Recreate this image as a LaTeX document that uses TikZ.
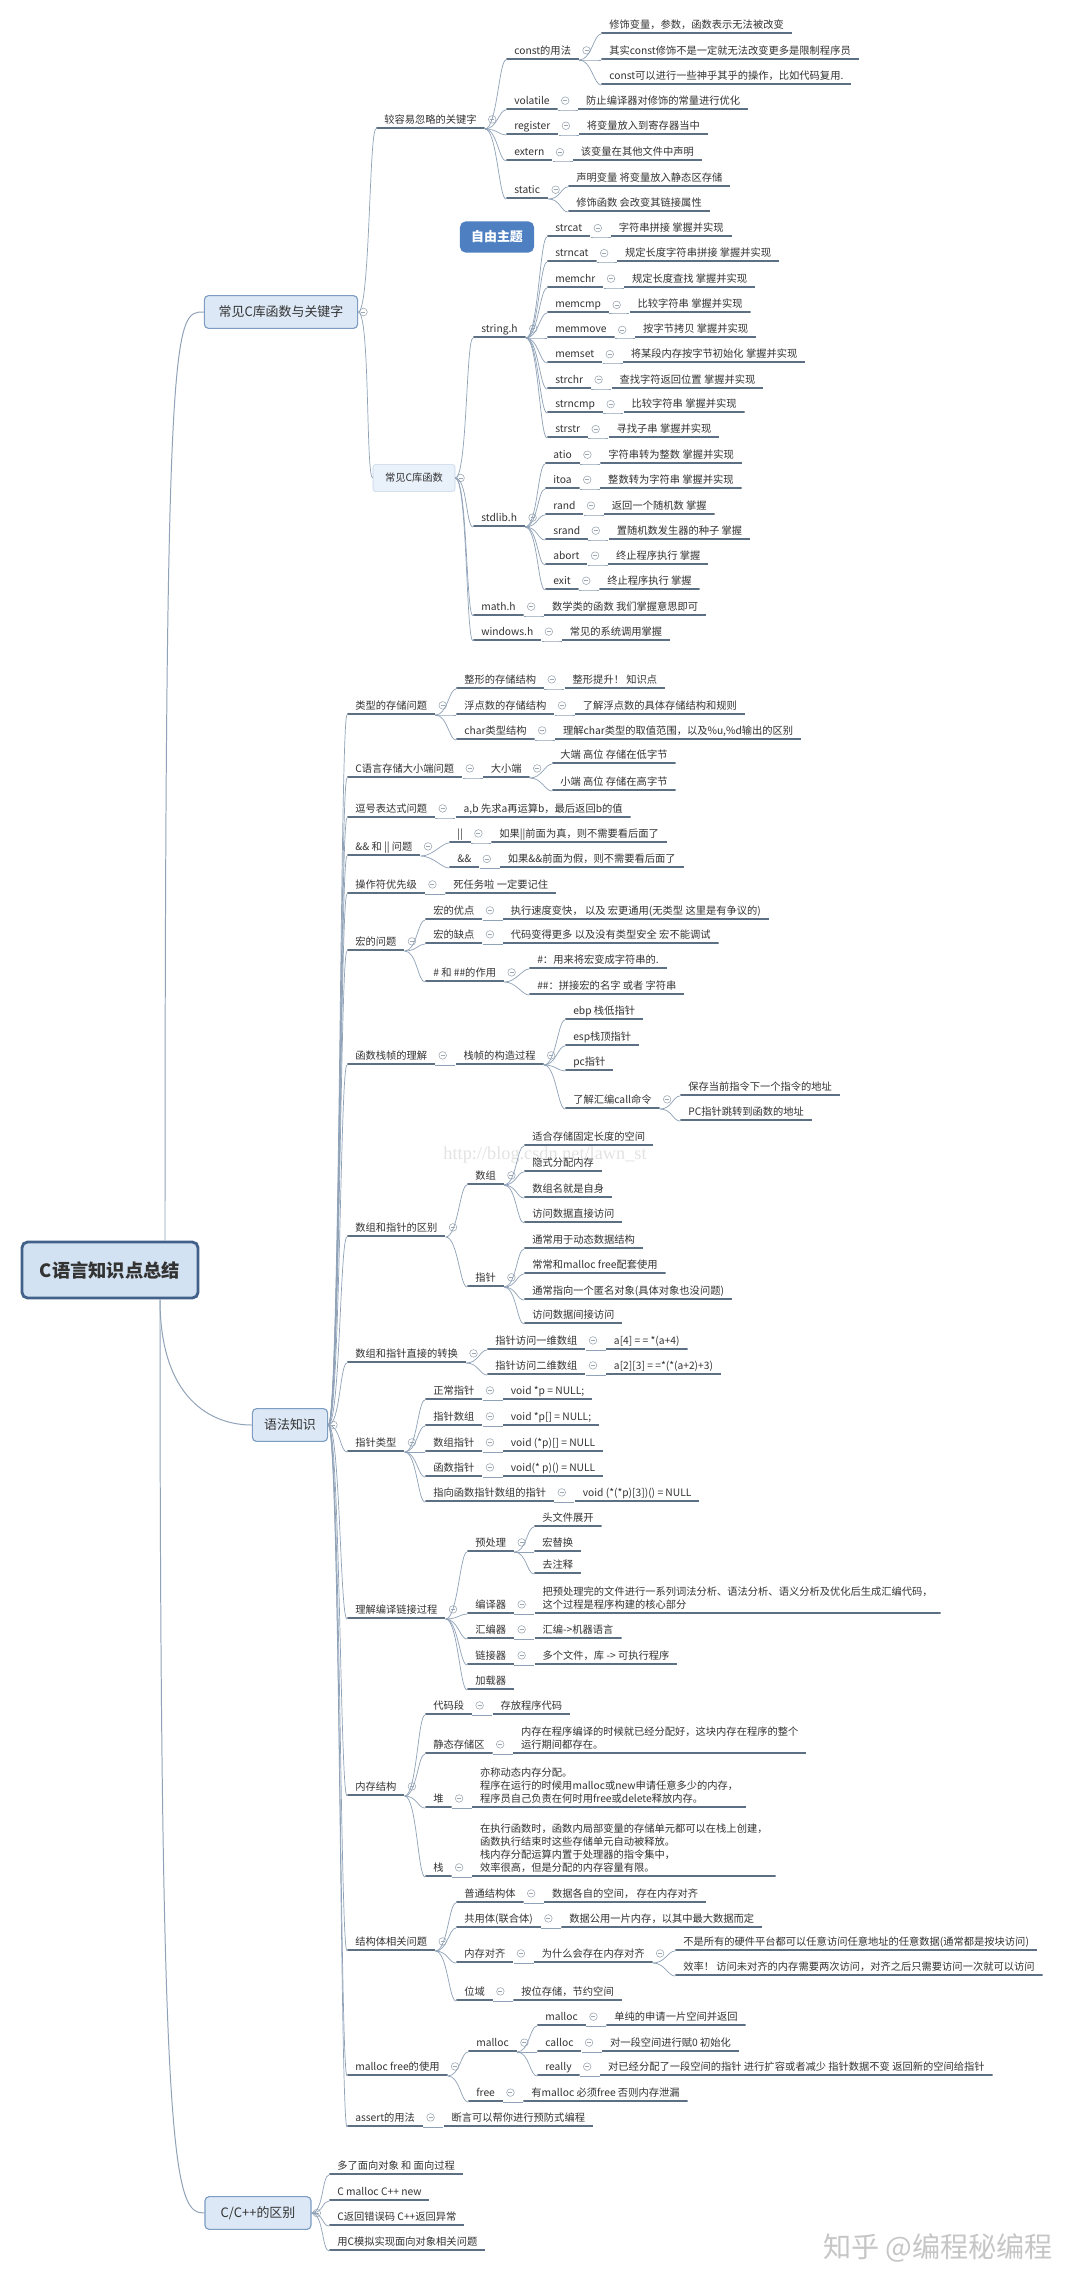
\documentclass[tikz,border=0pt]{standalone}
\usepackage{fontspec}
\setmainfont{Noto Sans CJK SC}
\newfontfamily\wmfont{Liberation Serif}
\usetikzlibrary{positioning, calc}

\definecolor{ulc}{HTML}{5D6F82}
\definecolor{connc}{HTML}{8FA2B8}
\definecolor{foldc}{HTML}{9BA6B2}
\definecolor{txt}{HTML}{333333}
\definecolor{boxf}{HTML}{DCE8F5}
\definecolor{boxd}{HTML}{7C9CC1}
\definecolor{rootf}{HTML}{D3E2F2}
\definecolor{rootd}{HTML}{41618A}
\definecolor{freef}{HTML}{4E80C1}
\definecolor{subf}{HTML}{E9F1FA}
\definecolor{subd}{HTML}{C5D5E8}

\newcommand\tpfont{\fontsize{7.3}{9.25}\selectfont}
\newcommand\boxfont{\fontsize{9.2}{11}\selectfont}
\newcommand\rootfont{\fontsize{13}{15}\selectfont\bfseries}

\begin{document}
\begin{tikzpicture}[
    x=0.025cm, y=-0.025cm,
    tp/.style={anchor=south west, inner xsep=0.2cm, inner ysep=0.125cm,
               text depth=0pt, align=left, font=\tpfont, text=txt,
               path picture={\draw[ulc, line width=1.5pt]
                 ([yshift=0.75pt]path picture bounding box.south west) --
                 ([yshift=0.75pt]path picture bounding box.south east);}},
    fold/.style={circle, draw=foldc, line width=0.4pt, inner sep=0pt,
                 minimum size=0.19cm,
                 path picture={\draw[foldc, line width=0.45pt]
                   ([xshift=0.045cm]path picture bounding box.west) --
                   ([xshift=-0.045cm]path picture bounding box.east);}},
    par/.style={tp, label={[fold, label distance=0.08cm]right:{}}},
    topbox/.style={draw=boxd, fill=boxf, line width=0.8pt, rounded corners=3pt,
                   font=\boxfont, text=txt, minimum height=0.82cm,
                   label={[fold, label distance=0.03cm]right:{}}},
    subbox/.style={draw=subd, fill=subf, rounded corners=2pt, font=\tpfont,
                   text=txt, minimum width=2.05cm, minimum height=0.68cm,
                   label={[fold, label distance=0.03cm]right:{}}},
    rootbox/.style={draw=rootd, fill=rootf, line width=2pt, rounded corners=4pt,
                    font=\rootfont, text=txt, minimum width=4.4cm,
                    minimum height=1.4cm},
    freebox/.style={fill=freef, rounded corners=4pt, text=white,
                    font=\boxfont\bfseries, minimum width=1.85cm,
                    minimum height=0.78cm},
    trunk/.style={draw=connc, line width=0.7pt},
    every edge/.style={draw=connc, line width=0.5pt,
                       to path={.. controls +(12,0) and +(-7,0) .. (\tikztotarget) \tikztonodes}}
  ]

  \fill[white] (0,0) rectangle (1080,2294);
  \useasboundingbox (0,0) rectangle (1080,2294);

  % watermarks
  \node[font=\wmfont\fontsize{13}{15}\selectfont, text=gray!22] (csdn) at (545,1155) {http://blog.csdn.net/lawn\_st};
  \node[font=\fontsize{20}{24}\selectfont, text=gray!45] (zhihu) at (938,2248) {知乎 @编程秘编程};

  % root and main branches
  \node[rootbox] (root) at (110,1270) {C语言知识点总结};
  \node[topbox, minimum width=3.83cm] (lib) at (281,312) {常见C库函数与关键字};
  \node[topbox, minimum width=1.88cm] (syn) at (290,1425) {语法知识};
  \node[topbox, minimum width=2.65cm] (cpp) at (258,2213) {C/C++的区别};

  \draw[trunk] (root.north) ++(55,0) .. controls +(0,-930) and +(-30,0) .. (lib.west);
  \draw[trunk] (root.south) ++(50,0) .. controls +(0,100) and +(-40,0) .. (syn.west);
  \draw[trunk] (root.south) ++(50,0) .. controls +(0,880) and +(-30,0) .. (cpp.west);

  % ---------- 常见C库函数与关键字 ----------
  \node[par] (kw) at (376,129) {较容易忽略的关键字};
  \node[par] (cst) at (506,60) {const的用法};
  \node[tp] (cstA) at (601,34) {修饰变量，参数，函数表示无法被改变};
  \node[tp] (cstB) at (601,60) {其实const修饰不是一定就无法改变更多是限制程序员};
  \node[tp] (cstC) at (601,85) {const可以进行一些神乎其乎的操作，比如代码复用.};
  \node[par] (vol) at (506,110) {volatile};
  \node[tp] (volA) at ([xshift=0.5cm]vol.south east) {防止编译器对修饰的常量进行优化};
  \node[par] (reg) at (506,135) {register};
  \node[tp] (regA) at ([xshift=0.5cm]reg.south east) {将变量放入到寄存器当中};
  \node[par] (ext) at (506,161) {extern};
  \node[tp] (extA) at ([xshift=0.5cm]ext.south east) {该变量在其他文件中声明};
  \node[par] (sta) at (506,199) {static};
  \node[tp] (staA) at (568,187) {声明变量 将变量放入静态区存储};
  \node[tp] (staB) at (568,212) {修饰函数 会改变其链接属性};

  \node[freebox] (free) at (497,237) {自由主题};

  \node[subbox] (clib) at (414,478) {常见C库函数};
  \node[par] (strh) at (473,338) {string.h};
  \node[par] (s1) at (547,237) {strcat};
  \node[tp] (s1d) at ([xshift=0.5cm]s1.south east) {字符串拼接 掌握并实现};
  \node[par] (s2) at (547,262) {strncat};
  \node[tp] (s2d) at ([xshift=0.5cm]s2.south east) {规定长度字符串拼接 掌握并实现};
  \node[par] (s3) at (547,288) {memchr};
  \node[tp] (s3d) at ([xshift=0.5cm]s3.south east) {规定长度查找 掌握并实现};
  \node[par] (s4) at (547,313) {memcmp};
  \node[tp] (s4d) at ([xshift=0.5cm]s4.south east) {比较字符串 掌握并实现};
  \node[par] (s5) at (547,338) {memmove};
  \node[tp] (s5d) at ([xshift=0.5cm]s5.south east) {按字节拷贝 掌握并实现};
  \node[par] (s6) at (547,363) {memset};
  \node[tp] (s6d) at ([xshift=0.5cm]s6.south east) {将某段内存按字节初始化 掌握并实现};
  \node[par] (s7) at (547,389) {strchr};
  \node[tp] (s7d) at ([xshift=0.5cm]s7.south east) {查找字符返回位置 掌握并实现};
  \node[par] (s8) at (547,413) {strncmp};
  \node[tp] (s8d) at ([xshift=0.5cm]s8.south east) {比较字符串 掌握并实现};
  \node[par] (s9) at (547,438) {strstr};
  \node[tp] (s9d) at ([xshift=0.5cm]s9.south east) {寻找子串 掌握并实现};

  \node[par] (stdh) at (473,527) {stdlib.h};
  \node[par] (d1) at (545,464) {atio};
  \node[tp] (d1d) at ([xshift=0.5cm]d1.south east) {字符串转为整数 掌握并实现};
  \node[par] (d2) at (545,489) {itoa};
  \node[tp] (d2d) at ([xshift=0.5cm]d2.south east) {整数转为字符串 掌握并实现};
  \node[par] (d3) at (545,515) {rand};
  \node[tp] (d3d) at ([xshift=0.5cm]d3.south east) {返回一个随机数 掌握};
  \node[par] (d4) at (545,540) {srand};
  \node[tp] (d4d) at ([xshift=0.5cm]d4.south east) {置随机数发生器的种子 掌握};
  \node[par] (d5) at (545,565) {abort};
  \node[tp] (d5d) at ([xshift=0.5cm]d5.south east) {终止程序执行 掌握};
  \node[par] (d6) at (545,590) {exit};
  \node[tp] (d6d) at ([xshift=0.5cm]d6.south east) {终止程序执行 掌握};

  \node[par] (mathh) at (473,616) {math.h};
  \node[tp] (mathA) at ([xshift=0.5cm]mathh.south east) {数学类的函数 我们掌握意思即可};
  \node[par] (winh) at (473,641) {windows.h};
  \node[tp] (winA) at ([xshift=0.5cm]winh.south east) {常见的系统调用掌握};

  \path (lib.east) edge (kw.south west) edge (clib.west);
  \path (kw.south east) edge (cst.south west) edge (vol.south west) edge (reg.south west)
        edge (ext.south west) edge (sta.south west);
  \path (cst.south east) edge (cstA.south west) edge (cstB.south west) edge (cstC.south west);
  \path (vol.south east) edge (volA.south west) (reg.south east) edge (regA.south west)
        (ext.south east) edge (extA.south west);
  \path (sta.south east) edge (staA.south west) edge (staB.south west);
  \path (clib.east) edge (strh.south west) edge (stdh.south west) edge (mathh.south west)
        edge (winh.south west);
  \path (strh.south east) edge (s1.south west) edge (s2.south west) edge (s3.south west)
        edge (s4.south west) edge (s5.south west) edge (s6.south west) edge (s7.south west)
        edge (s8.south west) edge (s9.south west);
  \path (s1.south east) edge (s1d.south west) (s2.south east) edge (s2d.south west)
        (s3.south east) edge (s3d.south west) (s4.south east) edge (s4d.south west)
        (s5.south east) edge (s5d.south west) (s6.south east) edge (s6d.south west)
        (s7.south east) edge (s7d.south west) (s8.south east) edge (s8d.south west)
        (s9.south east) edge (s9d.south west);
  \path (stdh.south east) edge (d1.south west) edge (d2.south west) edge (d3.south west)
        edge (d4.south west) edge (d5.south west) edge (d6.south west);
  \path (d1.south east) edge (d1d.south west) (d2.south east) edge (d2d.south west)
        (d3.south east) edge (d3d.south west) (d4.south east) edge (d4d.south west)
        (d5.south east) edge (d5d.south west) (d6.south east) edge (d6d.south west);
  \path (mathh.south east) edge (mathA.south west) (winh.south east) edge (winA.south west);

  % ---------- 语法知识 ----------
  \node[par] (tsq) at (347,715) {类型的存储问题};
  \node[par] (tsA) at (456,689) {整形的存储结构};
  \node[tp] (tsAd) at ([xshift=0.5cm]tsA.south east) {整形提升！ 知识点};
  \node[par] (tsB) at (456,715) {浮点数的存储结构};
  \node[tp] (tsBd) at ([xshift=0.5cm]tsB.south east) {了解浮点数的具体存储结构和规则};
  \node[par] (tsC) at (456,740) {char类型结构};
  \node[tp] (tsCd) at ([xshift=0.5cm]tsC.south east) {理解char类型的取值范围，以及\%u,\%d输出的区别};

  \node[par] (endq) at (347,778) {C语言存储大小端问题};
  \node[par] (endA) at ([xshift=0.5cm]endq.south east) {大小端};
  \node[tp] (endB) at (552,764) {大端 高位 存储在低字节};
  \node[tp] (endC) at (552,791) {小端 高位 存储在高字节};

  \node[par] (comma) at (347,818) {逗号表达式问题};
  \node[tp] (commaA) at ([xshift=0.5cm]comma.south east) {a,b 先求a再运算b，最后返回b的值};

  \node[par] (logic) at (347,856) {\&\& 和 || 问题};
  \node[par] (orop) at (449,843) {||};
  \node[tp] (oropA) at ([xshift=0.5cm]orop.south east) {如果||前面为真，则不需要看后面了};
  \node[par] (andop) at (449,868) {\&\&};
  \node[tp] (andopA) at ([xshift=0.5cm]andop.south east) {如果\&\&前面为假，则不需要看后面了};

  \node[par] (prio) at (347,894) {操作符优先级};
  \node[tp] (prioA) at ([xshift=0.5cm]prio.south east) {死任务啦 一定要记住};

  \node[par] (macro) at (347,951) {宏的问题};
  \node[par] (macA) at (425,920) {宏的优点};
  \node[tp] (macAd) at ([xshift=0.5cm]macA.south east) {执行速度变快， 以及 宏更通用(无类型 这里是有争议的)};
  \node[par] (macB) at (425,944) {宏的缺点};
  \node[tp] (macBd) at ([xshift=0.5cm]macB.south east) {代码变得更多 以及没有类型安全 宏不能调试};
  \node[par] (macC) at (425,982) {\# 和 \#\#的作用};
  \node[tp] (macCa) at (529,969) {\#：用来将宏变成字符串的.};
  \node[tp] (macCb) at (529,995) {\#\#：拼接宏的名字 或者 字符串};

  \node[par] (frame) at (347,1065) {函数栈帧的理解};
  \node[par] (frmA) at ([xshift=0.5cm]frame.south east) {栈帧的构造过程};
  \node[tp] (ebp) at (565,1020) {ebp 栈低指针};
  \node[tp] (esp) at (565,1046) {esp栈顶指针};
  \node[tp] (pcp) at (565,1071) {pc指针};
  \node[par] (call) at (565,1109) {了解汇编call命令};
  \node[tp] (callA) at (680,1096) {保存当前指令下一个指令的地址};
  \node[tp] (callB) at (680,1121) {PC指针跳转到函数的地址};

  \node[par] (arrptr) at (347,1237) {数组和指针的区别};
  \node[par] (arr) at (467,1185) {数组};
  \node[tp] (arrA) at (524,1146) {适合存储固定长度的空间};
  \node[tp] (arrB) at (524,1172) {隐式分配内存};
  \node[tp] (arrC) at (524,1198) {数组名就是自身};
  \node[tp] (arrD) at (524,1223) {访问数据直接访问};
  \node[par] (ptr) at (467,1287) {指针};
  \node[tp] (ptrA) at (524,1249) {通常用于动态数据结构};
  \node[tp] (ptrB) at (524,1274) {常常和malloc free配套使用};
  \node[tp] (ptrC) at (524,1300) {通常指向一个匿名对象(具体对象也没问题)};
  \node[tp] (ptrD) at (524,1324) {访问数据间接访问};

  \node[par] (conv) at (347,1363) {数组和指针直接的转换};
  \node[par] (convA) at (487,1350) {指针访问一维数组};
  \node[tp] (convAd) at ([xshift=0.5cm]convA.south east) {a[4] = = *(a+4)};
  \node[par] (convB) at (487,1375) {指针访问二维数组};
  \node[tp] (convBd) at ([xshift=0.5cm]convB.south east) {a[2][3] = =*(*(a+2)+3)};

  \node[par] (ptype) at (347,1452) {指针类型};
  \node[par] (ptA) at (425,1400) {正常指针};
  \node[tp] (ptAd) at ([xshift=0.5cm]ptA.south east) {void *p = NULL;};
  \node[par] (ptB) at (425,1426) {指针数组};
  \node[tp] (ptBd) at ([xshift=0.5cm]ptB.south east) {void *p[] = NULL;};
  \node[par] (ptC) at (425,1452) {数组指针};
  \node[tp] (ptCd) at ([xshift=0.5cm]ptC.south east) {void (*p)[] = NULL};
  \node[par] (ptD) at (425,1477) {函数指针};
  \node[tp] (ptDd) at ([xshift=0.5cm]ptD.south east) {void(* p)() = NULL};
  \node[par] (ptE) at (425,1502) {指向函数指针数组的指针};
  \node[tp] (ptEd) at ([xshift=0.5cm]ptE.south east) {void (*(*p)[3])() = NULL};

  \node[par] (build) at (347,1619) {理解编译链接过程};
  \node[par] (pre) at (467,1552) {预处理};
  \node[tp] (preA) at (534,1527) {头文件展开};
  \node[tp] (preB) at (534,1552) {宏替换};
  \node[tp] (preC) at (534,1574) {去注释};
  \node[par] (ccmp) at (467,1614) {编译器};
  \node[tp] (ccmpA) at ([xshift=0.5cm]ccmp.south east) {把预处理完的文件进行一系列词法分析、语法分析、语义分析及优化后生成汇编代码，\\这个过程是程序构建的核心部分};
  \node[par] (asm) at (467,1639) {汇编器};
  \node[tp] (asmA) at ([xshift=0.5cm]asm.south east) {汇编->机器语言};
  \node[par] (lnk) at (467,1665) {链接器};
  \node[tp] (lnkA) at ([xshift=0.5cm]lnk.south east) {多个文件，库 -> 可执行程序};
  \node[tp] (load) at (467,1690) {加载器};

  \node[par] (mem) at (347,1796) {内存结构};
  \node[par] (code) at (425,1715) {代码段};
  \node[tp] (codeA) at ([xshift=0.5cm]code.south east) {存放程序代码};
  \node[par] (stat) at (425,1754) {静态存储区};
  \node[tp] (statA) at ([xshift=0.5cm]stat.south east) {内存在程序编译的时候就已经分配好，这块内存在程序的整个\\运行期间都存在。};
  \node[par] (heap) at (425,1808) {堆};
  \node[tp] (heapA) at ([xshift=0.5cm]heap.south east) {亦称动态内存分配。\\程序在运行的时候用malloc或new申请任意多少的内存，\\程序员自己负责在何时用free或delete释放内存。};
  \node[par] (stk) at (425,1877) {栈};
  \node[tp] (stkA) at ([xshift=0.5cm]stk.south east) {在执行函数时，函数内局部变量的存储单元都可以在栈上创建，\\函数执行结束时这些存储单元自动被释放。\\栈内存分配运算内置于处理器的指令集中，\\效率很高，但是分配的内存容量有限。};

  \node[par] (sq) at (347,1951) {结构体相关问题};
  \node[par] (sqA) at (456,1903) {普通结构体};
  \node[tp] (sqAd) at ([xshift=0.5cm]sqA.south east) {数据各自的空间， 存在内存对齐};
  \node[par] (sqB) at (456,1928) {共用体(联合体)};
  \node[tp] (sqBd) at ([xshift=0.5cm]sqB.south east) {数据公用一片内存，以其中最大数据而定};
  \node[par] (sqC) at (456,1963) {内存对齐};
  \node[par] (sqCa) at ([xshift=0.5cm]sqC.south east) {为什么会存在内存对齐};
  \node[tp] (sqCb) at (675,1951) {不是所有的硬件平台都可以任意访问任意地址的任意数据(通常都是按块访问)};
  \node[tp] (sqCc) at (675,1976) {效率！ 访问未对齐的内存需要两次访问，对齐之后只需要访问一次就可以访问};
  \node[par] (sqD) at (456,2001) {位域};
  \node[tp] (sqDd) at ([xshift=0.5cm]sqD.south east) {按位存储，节约空间};

  \node[par] (mfree) at (347,2076) {malloc free的使用};
  \node[par] (mal) at (468,2052) {malloc};
  \node[par] (malA) at (537,2026) {malloc};
  \node[tp] (malAd) at ([xshift=0.5cm]malA.south east) {单纯的申请一片空间并返回};
  \node[par] (malB) at (537,2052) {calloc};
  \node[tp] (malBd) at ([xshift=0.5cm]malB.south east) {对一段空间进行赋0 初始化};
  \node[par] (malC) at (537,2076) {really};
  \node[tp] (malCd) at ([xshift=0.5cm]malC.south east) {对已经分配了一段空间的指针 进行扩容或者减少 指针数据不变 返回新的空间给指针};
  \node[par] (fre) at (468,2102) {free};
  \node[tp] (freA) at ([xshift=0.5cm]fre.south east) {有malloc 必须free 否则内存泄漏};

  \node[par] (asrt) at (347,2127) {assert的用法};
  \node[tp] (asrtA) at ([xshift=0.5cm]asrt.south east) {断言可以帮你进行预防式编程};

  \path (syn.east) edge (tsq.south west) edge (endq.south west) edge (comma.south west)
        edge (logic.south west) edge (prio.south west) edge (macro.south west)
        edge (frame.south west) edge (arrptr.south west) edge (conv.south west)
        edge (ptype.south west) edge (build.south west) edge (mem.south west)
        edge (sq.south west) edge (mfree.south west) edge (asrt.south west);
  \path (tsq.south east) edge (tsA.south west) edge (tsB.south west) edge (tsC.south west);
  \path (tsA.south east) edge (tsAd.south west) (tsB.south east) edge (tsBd.south west)
        (tsC.south east) edge (tsCd.south west);
  \path (endq.south east) edge (endA.south west);
  \path (endA.south east) edge (endB.south west) edge (endC.south west);
  \path (comma.south east) edge (commaA.south west);
  \path (logic.south east) edge (orop.south west) edge (andop.south west);
  \path (orop.south east) edge (oropA.south west) (andop.south east) edge (andopA.south west);
  \path (prio.south east) edge (prioA.south west);
  \path (macro.south east) edge (macA.south west) edge (macB.south west) edge (macC.south west);
  \path (macA.south east) edge (macAd.south west) (macB.south east) edge (macBd.south west);
  \path (macC.south east) edge (macCa.south west) edge (macCb.south west);
  \path (frame.south east) edge (frmA.south west);
  \path (frmA.south east) edge (ebp.south west) edge (esp.south west) edge (pcp.south west)
        edge (call.south west);
  \path (call.south east) edge (callA.south west) edge (callB.south west);
  \path (arrptr.south east) edge (arr.south west) edge (ptr.south west);
  \path (arr.south east) edge (arrA.south west) edge (arrB.south west) edge (arrC.south west)
        edge (arrD.south west);
  \path (ptr.south east) edge (ptrA.south west) edge (ptrB.south west) edge (ptrC.south west)
        edge (ptrD.south west);
  \path (conv.south east) edge (convA.south west) edge (convB.south west);
  \path (convA.south east) edge (convAd.south west) (convB.south east) edge (convBd.south west);
  \path (ptype.south east) edge (ptA.south west) edge (ptB.south west) edge (ptC.south west)
        edge (ptD.south west) edge (ptE.south west);
  \path (ptA.south east) edge (ptAd.south west) (ptB.south east) edge (ptBd.south west)
        (ptC.south east) edge (ptCd.south west) (ptD.south east) edge (ptDd.south west)
        (ptE.south east) edge (ptEd.south west);
  \path (build.south east) edge (pre.south west) edge (ccmp.south west) edge (asm.south west)
        edge (lnk.south west) edge (load.south west);
  \path (pre.south east) edge (preA.south west) edge (preB.south west) edge (preC.south west);
  \path (ccmp.south east) edge (ccmpA.south west) (asm.south east) edge (asmA.south west)
        (lnk.south east) edge (lnkA.south west);
  \path (mem.south east) edge (code.south west) edge (stat.south west) edge (heap.south west)
        edge (stk.south west);
  \path (code.south east) edge (codeA.south west) (stat.south east) edge (statA.south west)
        (heap.south east) edge (heapA.south west) (stk.south east) edge (stkA.south west);
  \path (sq.south east) edge (sqA.south west) edge (sqB.south west) edge (sqC.south west)
        edge (sqD.south west);
  \path (sqA.south east) edge (sqAd.south west) (sqB.south east) edge (sqBd.south west)
        (sqC.south east) edge (sqCa.south west) (sqD.south east) edge (sqDd.south west);
  \path (sqCa.south east) edge (sqCb.south west) edge (sqCc.south west);
  \path (mfree.south east) edge (mal.south west) edge (fre.south west);
  \path (mal.south east) edge (malA.south west) edge (malB.south west) edge (malC.south west);
  \path (malA.south east) edge (malAd.south west) (malB.south east) edge (malBd.south west)
        (malC.south east) edge (malCd.south west) (fre.south east) edge (freA.south west);
  \path (asrt.south east) edge (asrtA.south west);

  % ---------- C/C++的区别 ----------
  \node[tp] (cppA) at (329,2175) {多了面向对象 和 面向过程};
  \node[tp] (cppB) at (329,2201) {C malloc C++ new};
  \node[tp] (cppC) at (329,2226) {C返回错误码 C++返回异常};
  \node[tp] (cppD) at (329,2251) {用C模拟实现面向对象相关问题};
  \path (cpp.east) edge (cppA.south west) edge (cppB.south west) edge (cppC.south west)
        edge (cppD.south west);

\end{tikzpicture}
\end{document}
